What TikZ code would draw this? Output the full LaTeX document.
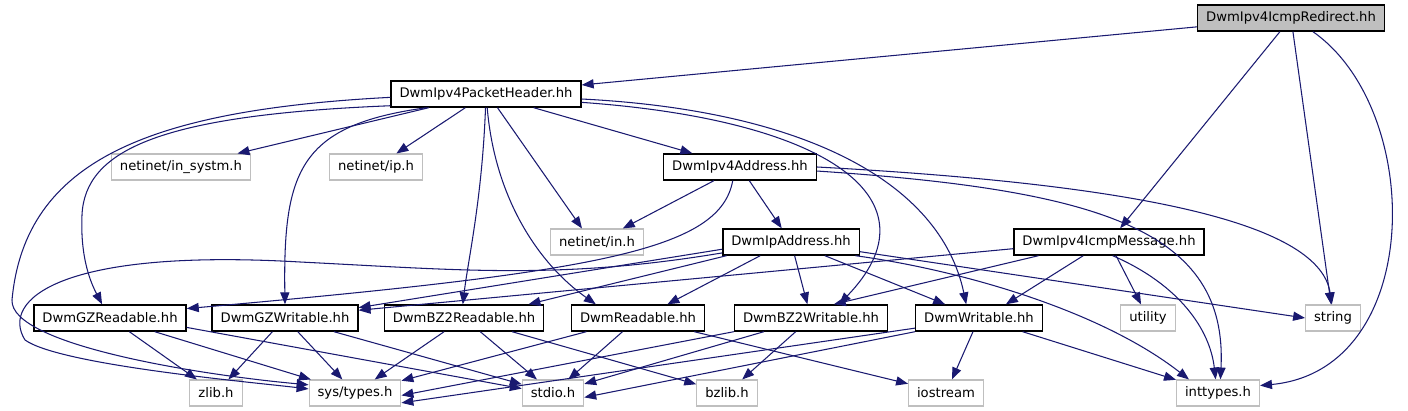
\documentclass[tikz,border=0pt]{standalone}
\usepackage{fontspec}
\setmainfont{DejaVu Sans}
\usetikzlibrary{arrows.meta}

\definecolor{edgeblue}{HTML}{191970}
\definecolor{sysgray}{HTML}{BFBFBF}

\tikzset{
  file/.style={rectangle, draw=black, line width=0.8pt, fill=white,
               minimum height=0.52cm, inner xsep=0.17cm, inner ysep=0pt,
               font=\fontsize{7.5}{9}\selectfont},
  sysfile/.style={file, draw=sysgray, line width=0.6pt},
  rootfile/.style={file, fill=sysgray},
  dep/.style={draw=edgeblue, line width=0.6pt,
              -{Triangle[length=6.8pt,width=5.2pt]}}
}

\begin{document}
\begin{tikzpicture}[x=0.02cm, y=-0.02cm]
\useasboundingbox (0,0) rectangle (1408,411);

% Top level
\node[rootfile] (redirect) at (1291,18) {DwmIpv4IcmpRedirect.hh};
\node[file] (header) at (486,94) {DwmIpv4PacketHeader.hh};

% Second row
\node[sysfile] (insystm) at (181,167) {netinet/in\_systm.h};
\node[sysfile] (ip) at (376,167) {netinet/ip.h};
\node[file] (v4addr) at (740,167) {DwmIpv4Address.hh};

% Third row
\node[sysfile] (netin) at (597,242) {netinet/in.h};
\node[file] (ipaddr) at (791,242) {DwmIpAddress.hh};
\node[file] (icmpmsg) at (1109,242) {DwmIpv4IcmpMessage.hh};

% Readable / Writable row
\node[file] (gzr) at (110,318) {DwmGZReadable.hh};
\node[file] (gzw) at (285,318) {DwmGZWritable.hh};
\node[file] (bz2r) at (464,318) {DwmBZ2Readable.hh};
\node[file] (rd) at (638,318) {DwmReadable.hh};
\node[file] (bz2w) at (811,318) {DwmBZ2Writable.hh};
\node[file] (wr) at (979,318) {DwmWritable.hh};
\node[sysfile] (utility) at (1148,318) {utility};
\node[sysfile] (string) at (1333,318) {string};

% System headers
\node[sysfile] (zlib) at (216,393) {zlib.h};
\node[sysfile] (systypes) at (355,393) {sys/types.h};
\node[sysfile] (stdio) at (553,393) {stdio.h};
\node[sysfile] (bzlib) at (727,393) {bzlib.h};
\node[sysfile] (iostream) at (946,393) {iostream};
\node[sysfile] (inttypes) at (1218,393) {inttypes.h};

% Edges from DwmIpv4IcmpRedirect.hh
\draw[dep] (redirect) -- (header);
\draw[dep] (redirect) -- (icmpmsg);
\draw[dep] (redirect) -- (string);
\draw[dep] (redirect.-32) .. controls (1425,110) and (1425,370) .. (inttypes.10);

% Edges from DwmIpv4PacketHeader.hh
\draw[dep] (header.182) .. controls (150,110) and (25,160) .. (12,300)
  .. controls (10,345) and (200,375) .. (systypes.170);
\draw[dep] (header.187) .. controls (160,115) and (85,150) .. (82,215)
  .. controls (80,260) and (92,285) .. (gzr.120);
\draw[dep] (header) -- (insystm);
\draw[dep] (header.193) .. controls (300,125) and (283,170) .. (gzw.north);
\draw[dep] (header) -- (ip);
\draw[dep] (header.-92) .. controls (482,200) and (468,260) .. (bz2r.95);
\draw[dep] (header.-85) .. controls (495,200) and (540,265) .. (rd.162);
\draw[dep] (header.-50) -- (netin.138);
\draw[dep] (header) -- (v4addr);
\draw[dep] (header.-5) .. controls (830,120) and (940,200) .. (bz2w.26);
\draw[dep] (header.-3) .. controls (800,110) and (940,180) .. (wr.133);

% Edges from DwmIpv4Address.hh
\draw[dep] (v4addr) -- (netin);
\draw[dep] (v4addr) -- (ipaddr);
\draw[dep] (v4addr.-118) .. controls (720,250) and (600,272) .. (gzr.7);
\draw[dep] (v4addr.east) .. controls (1150,185) and (1320,225) .. (string.95);
\draw[dep] (v4addr.-3) .. controls (1100,190) and (1228,230) .. (inttypes.80);

% Edges from DwmIpAddress.hh
\draw[dep] (ipaddr.189) .. controls (560,280) and (460,270) .. (300,262)
  .. controls (60,248) and (0,300) .. (25,340)
  .. controls (60,365) and (250,382) .. (systypes.175);
\draw[dep] (ipaddr.186) -- (gzw.8);
\draw[dep] (ipaddr.192) -- (bz2r.12);
\draw[dep] (ipaddr.204) -- (rd.25);
\draw[dep] (ipaddr) -- (bz2w);
\draw[dep] (ipaddr) -- (wr);
\draw[dep] (ipaddr.-8) -- (string.west);
\draw[dep] (ipaddr.-12) .. controls (960,270) and (1100,310) .. (inttypes.155);

% Edges from DwmIpv4IcmpMessage.hh
\draw[dep] (icmpmsg.184) -- (gzw.6);
\draw[dep] (icmpmsg.191) -- (bz2w.31);
\draw[dep] (icmpmsg.208) -- (wr.27);
\draw[dep] (icmpmsg) -- (utility);
\draw[dep] (icmpmsg.-75) .. controls (1180,285) and (1210,330) .. (inttypes.100);

% Edges to the system headers
\draw[dep] (gzr) -- (zlib);
\draw[dep] (gzr) -- (systypes);
\draw[dep] (gzr.-7) -- (stdio.172);
\draw[dep] (gzw) -- (zlib);
\draw[dep] (gzw) -- (systypes);
\draw[dep] (gzw) -- (stdio);
\draw[dep] (bz2r) -- (systypes);
\draw[dep] (bz2r) -- (stdio);
\draw[dep] (bz2r) -- (bzlib);
\draw[dep] (rd) -- (systypes);
\draw[dep] (rd) -- (stdio);
\draw[dep] (rd) -- (iostream);
\draw[dep] (bz2w.south west) -- (systypes.-3);
\draw[dep] (bz2w) -- (stdio);
\draw[dep] (bz2w) -- (bzlib);
\draw[dep] (wr.189) -- (systypes.-12);
\draw[dep] (wr.south west) -- (stdio.-8);
\draw[dep] (wr) -- (iostream);
\draw[dep] (wr) -- (inttypes);

\end{tikzpicture}
\end{document}
